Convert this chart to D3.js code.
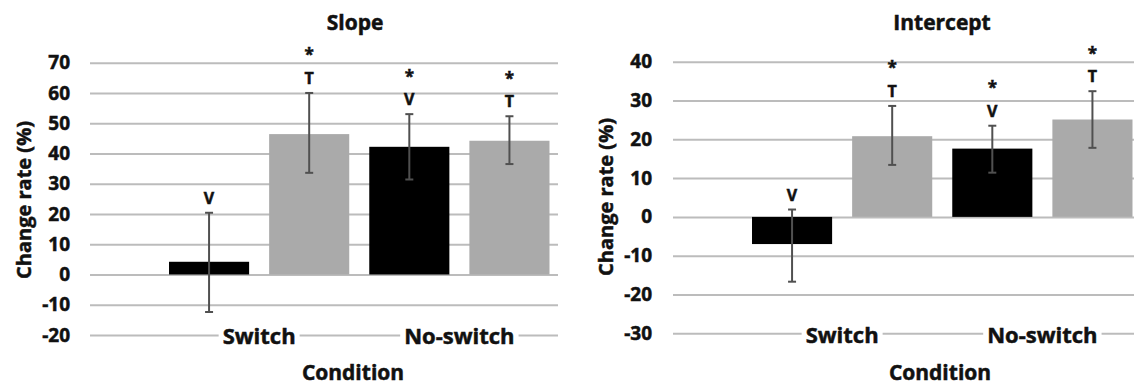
<!DOCTYPE html>
<html><head><meta charset="utf-8">
<script src="https://cdn.jsdelivr.net/npm/d3@7"></script>
<style>
body{margin:0;background:#fff}
svg{display:block}
text{font-family:"Open Sans",sans-serif;font-weight:700;fill:#111;stroke:#111;stroke-width:0.5px}
</style>
</head><body>
<svg id="chart" width="1134" height="386"></svg>
<script>
// ---- data ----
const categories = ["Switch", "No-switch"];
const seriesKeys = ["black", "gray"];

const slopeTitle = "Slope";
const slopeTicks = [-20, -10, 0, 10, 20, 30, 40, 50, 60, 70];
const slopeBlack = [4.2, 42.2];
const slopeGray = [46.4, 44.2];
const slopeBlackErr = [[-12.4, 20.4], [31.4, 53.0]];
const slopeGrayErr = [[33.6, 60.0], [36.5, 52.3]];
const slopeBlackMarks = [["V"], ["V", "*"]];
const slopeGrayMarks = [["T", "*"], ["T", "*"]];

const interceptTitle = "Intercept";
const interceptTicks = [-30, -20, -10, 0, 10, 20, 30, 40];
const interceptBlack = [-7.0, 17.6];
const interceptGray = [20.8, 25.1];
const interceptBlackErr = [[-16.7, 1.9], [11.4, 23.5]];
const interceptGrayErr = [[13.4, 28.6], [17.8, 32.4]];
const interceptBlackMarks = [["V"], ["V", "*"]];
const interceptGrayMarks = [["T", "*"], ["T", "*"]];

const yTitle = "Change rate (%)";
const xTitle = "Condition";

// ---- layout ----
const svg = d3.select("#chart");
const colors = {black: "#000000", gray: "#aaaaaa"};

const panels = [
  {title: slopeTitle, ticks: slopeTicks, black: slopeBlack, gray: slopeGray,
   blackErr: slopeBlackErr, grayErr: slopeGrayErr, blackMarks: slopeBlackMarks, grayMarks: slopeGrayMarks,
   yRange: [335, 62.7], gridL: 90, gridR: 558, tickPad: 20, xRange: [159, 559.5],
   titleX: 355, titleY: 22, yTitleX: 23, yTitleY: 200, catY: 336, xTitleX: 353, xTitleY: 380},
  {title: interceptTitle, ticks: interceptTicks, black: interceptBlack, gray: interceptGray,
   blackErr: interceptBlackErr, grayErr: interceptGrayErr, blackMarks: interceptBlackMarks, grayMarks: interceptGrayMarks,
   yRange: [333.3, 61.7], gridL: 673, gridR: 1134, tickPad: 21, xRange: [742, 1142.5],
   titleX: 942, titleY: 22, yTitleX: 605, yTitleY: 197, catY: 335, xTitleX: 940, xTitleY: 380}
];

panels.forEach(p => {
  const g = svg.append("g");
  const y = d3.scaleLinear().domain(d3.extent(p.ticks)).range(p.yRange);
  const x0 = d3.scaleBand().domain(categories).range(p.xRange).padding(0);
  const x1 = d3.scaleBand().domain(seriesKeys).range([0, x0.bandwidth()]).paddingInner(0.2).paddingOuter(0.1);

  // gridlines + y tick labels
  const yAxis = d3.axisLeft(y).tickValues(p.ticks)
    .tickSizeInner(-(p.gridR - p.gridL)).tickSizeOuter(0).tickPadding(p.tickPad)
    .tickFormat(d => String(d));
  const ya = g.append("g").attr("transform", `translate(${p.gridL},0)`).call(yAxis);
  ya.select(".domain").remove();
  ya.selectAll("line").attr("stroke", "#bcbcbc").attr("stroke-width", 2);
  ya.selectAll("text").attr("font-size", 19).attr("fill", "#111")
    .style("font-family", "'Open Sans',sans-serif").style("font-weight", 700);

  // bars
  const rows = categories.map((c, i) => seriesKeys.map(k => ({
    cat: c, key: k, value: p[k][i], err: p[k + "Err"][i], marks: p[k + "Marks"][i]
  }))).flat();

  g.selectAll("rect.bar").data(rows).join("rect").attr("class", "bar")
    .attr("x", d => x0(d.cat) + x1(d.key))
    .attr("width", x1.bandwidth())
    .attr("y", d => y(Math.max(0, d.value)))
    .attr("height", d => Math.abs(y(d.value) - y(0)))
    .attr("fill", d => colors[d.key]);

  // error bars
  const eb = g.selectAll("g.err").data(rows).join("g").attr("class", "err")
    .attr("transform", d => `translate(${x0(d.cat) + x1(d.key) + x1.bandwidth() / 2},0)`);
  eb.append("line").attr("y1", d => y(d.err[0])).attr("y2", d => y(d.err[1]))
    .attr("stroke", "#505050").attr("stroke-width", 2);
  eb.append("line").attr("x1", -4).attr("x2", 4).attr("y1", d => y(d.err[0])).attr("y2", d => y(d.err[0]))
    .attr("stroke", "#505050").attr("stroke-width", 2);
  eb.append("line").attr("x1", -4).attr("x2", 4).attr("y1", d => y(d.err[1])).attr("y2", d => y(d.err[1]))
    .attr("stroke", "#505050").attr("stroke-width", 2);

  // significance marks
  eb.each(function(d) {
    d3.select(this).selectAll("text.mark").data(d.marks).join("text").attr("class", "mark")
      .attr("x", 0)
      .attr("y", (m, j) => y(d.err[1]) - 15 - j * 23)
      .attr("text-anchor", "middle").attr("dominant-baseline", "central")
      .attr("font-size", m => m === "*" ? 17 : 16).text(m => m);
  });

  // category axis
  const xAxis = d3.axisBottom(x0).tickSize(0).tickPadding(0);
  const xa = g.append("g").attr("transform", `translate(0,${p.catY})`).call(xAxis);
  xa.select(".domain").remove();
  xa.selectAll("text").attr("font-size", 22).attr("fill", "#111").attr("dy", "0.35em").attr("y", 0)
    .style("font-family", "'Open Sans',sans-serif").style("font-weight", 700);
  xa.selectAll(".tick").each(function() {
    const t = d3.select(this).select("text");
    const b = t.node().getBBox();
    d3.select(this).insert("rect", "text")
      .attr("x", b.x - 4).attr("y", b.y + 3).attr("width", b.width + 8).attr("height", b.height - 6)
      .attr("fill", "#fff");
  });

  // titles
  g.append("text").attr("x", p.titleX).attr("y", p.titleY).attr("text-anchor", "middle")
    .attr("dominant-baseline", "central").attr("font-size", 21).text(p.title);
  g.append("text").attr("transform", `translate(${p.yTitleX},${p.yTitleY}) rotate(-90)`)
    .attr("text-anchor", "middle").attr("dominant-baseline", "central").attr("font-size", 20).text(yTitle);
  g.append("text").attr("x", p.xTitleX).attr("y", p.xTitleY).attr("text-anchor", "middle")
    .attr("font-size", 21).text(xTitle);
});
</script>
</body></html>
